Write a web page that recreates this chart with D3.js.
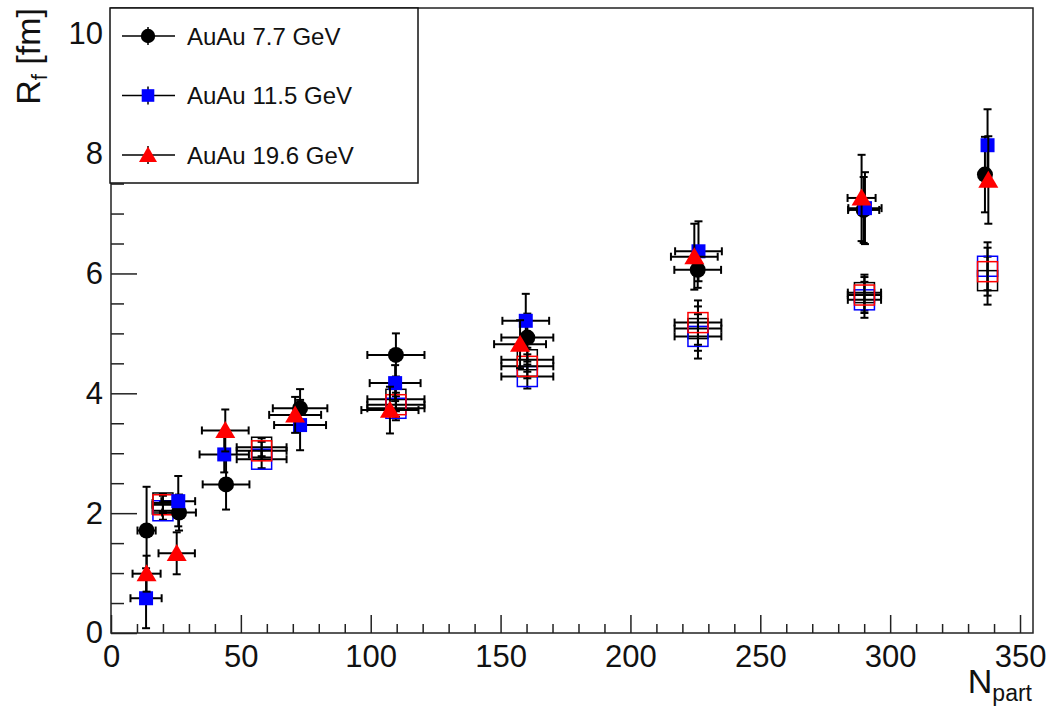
<!DOCTYPE html>
<html>
<head>
<meta charset="utf-8">
<script src="https://cdn.jsdelivr.net/npm/d3@7"></script>
<style>
  html, body { margin: 0; padding: 0; background: #fff; }
  svg { display: block; font-family: "Liberation Sans", Arial, Helvetica, sans-serif; }
</style>
</head>
<body>
<svg id="chart" width="1049" height="708"></svg>
<script>
// filled markers: AuAu 7.7 / 11.5 / 19.6 GeV
const npart77  = [13.7, 26.2, 44.3, 72.8, 109.7, 160.3, 225.9, 289.8, 336.5];
const rf77     = [1.71, 2.01, 2.48, 3.75, 4.64, 4.93, 6.06, 7.06, 7.65];
const xerr77   = [3.5, 6.5, 9, 10.5, 11, 10, 9, 6, 0];
const yerr77   = [0.73, 0.3, 0.42, 0.32, 0.36, 0.4, 0.3, 0.55, 0.63];

const npart115 = [13.5, 25.9, 43.6, 72.8, 109.4, 159.7, 226.2, 290.3, 337.5];
const rf115    = [0.58, 2.2, 2.98, 3.47, 4.17, 5.21, 6.37, 7.09, 8.14];
const xerr115  = [6, 6.5, 9.5, 10, 9.8, 9, 9, 6.4, 0];
const yerr115  = [0.5, 0.42, 0.3, 0.42, 0.3, 0.45, 0.5, 0.6, 0.6];

const npart196 = [13.7, 25.3, 44.0, 70.9, 107.4, 157.5, 224.6, 289.0, 337.8];
const rf196    = [0.99, 1.33, 3.38, 3.64, 3.72, 4.82, 6.28, 7.26, 7.56];
const xerr196  = [5.4, 7, 9, 10, 11, 10, 9, 5.4, 0];
const yerr196  = [0.3, 0.35, 0.35, 0.3, 0.39, 0.4, 0.55, 0.72, 0.73];

// open squares (black, blue, red)
const npartOpen   = [20, 58, 109.7, 160.3, 226, 290.1, 337.5];
const xerrOpen    = [4, 9.6, 11, 10, 9, 6.4, 0];
const rfOpenBlack = [2.17, 3.1, 3.9, 4.56, 5.08, 5.68, 5.88];
const rfOpenBlue  = [2.04, 2.9, 3.75, 4.28, 4.95, 5.56, 6.12];
const rfOpenRed   = [2.14, 3.04, 3.81, 4.45, 5.18, 5.64, 6.03];
const yerrOpen    = [0.15, 0.15, 0.2, 0.2, 0.37, 0.3, 0.4];

const legendLabels = ["AuAu 7.7 GeV", "AuAu 11.5 GeV", "AuAu 19.6 GeV"];
const xTicks = [0, 50, 100, 150, 200, 250, 300, 350];
const yTicks = [0, 2, 4, 6, 8, 10];

const svg = d3.select("#chart");
const frameL = 111, frameR = 1033, frameT = 8, frameB = 633;

const x = d3.scaleLinear().domain([0, 355]).range([frameL, frameR]);
const y = d3.scaleLinear().domain([0, 10.43]).range([frameB, frameT]);

function pts(nx, ny, ex, ey) {
  return nx.map((n, i) => ({ n: n, r: ny[i], ex: ex[i], ey: ey[i] }));
}

const series = [
  { data: pts(npartOpen, rfOpenBlack, xerrOpen, yerrOpen), shape: "open", color: "#000" },
  { data: pts(npartOpen, rfOpenBlue, xerrOpen, yerrOpen), shape: "open", color: "#0000ff" },
  { data: pts(npartOpen, rfOpenRed, xerrOpen, yerrOpen), shape: "open", color: "#ff0000" },
  { data: pts(npart77, rf77, xerr77, yerr77), shape: "circle", color: "#000" },
  { data: pts(npart115, rf115, xerr115, yerr115), shape: "square", color: "#0000ff" },
  { data: pts(npart196, rf196, xerr196, yerr196), shape: "triangle", color: "#ff0000" }
];

// axes (ticks inside the frame)
const minorX = d3.range(0, 356, 10).filter(v => v % 50 !== 0);
const minorY = d3.range(0, 10.43, 0.5).filter(v => Math.abs(v % 2) > 1e-6);

const gx = svg.append("g").attr("transform", "translate(0," + frameB + ")");
gx.call(d3.axisBottom(x).tickValues(xTicks).tickSize(-18).tickPadding(12).tickFormat(d3.format("d")));
gx.append("g").call(d3.axisBottom(x).tickValues(minorX).tickSize(-9).tickFormat(""));

const gy = svg.append("g").attr("transform", "translate(" + frameL + ",0)");
gy.call(d3.axisLeft(y).tickValues(yTicks).tickSize(-26).tickPadding(8).tickFormat(d3.format("d")));
gy.append("g").call(d3.axisLeft(y).tickValues(minorY).tickSize(-13).tickFormat(""));

svg.selectAll(".domain").remove();
svg.selectAll(".tick line").attr("stroke", "#222").attr("stroke-width", 1.5);
svg.selectAll(".tick text").attr("font-size", 31).attr("fill", "#111")
  .attr("font-family", "'Liberation Sans', Arial, sans-serif");

svg.append("rect")
  .attr("x", frameL).attr("y", frameT)
  .attr("width", frameR - frameL).attr("height", frameB - frameT)
  .attr("fill", "none").attr("stroke", "#222").attr("stroke-width", 1.5);

// markers
function drawMarker(g, shape, color, cx, cy, s) {
  if (shape === "circle") {
    g.append("circle").attr("cx", cx).attr("cy", cy).attr("r", 8 * s).attr("fill", color);
  } else if (shape === "square") {
    g.append("rect").attr("x", cx - 7 * s).attr("y", cy - 7 * s)
      .attr("width", 14 * s).attr("height", 14 * s).attr("fill", color);
  } else if (shape === "triangle") {
    const w = 10 * s, h = 17 * s;
    g.append("path")
      .attr("d", "M" + (cx - w) + "," + (cy + h * 0.45) + "L" + cx + "," + (cy - h * 0.55) +
                 "L" + (cx + w) + "," + (cy + h * 0.45) + "Z")
      .attr("fill", color);
  } else {
    g.append("rect").attr("x", cx - 10).attr("y", cy - 10)
      .attr("width", 20).attr("height", 20)
      .attr("fill", "none").attr("stroke", color).attr("stroke-width", 1.5);
  }
}

const cap = 4;
const plot = svg.append("g");
series.forEach(s => {
  const g = plot.append("g");
  s.data.forEach(d => {
    const cx = x(d.n), cy = y(d.r);
    const eb = g.append("g").attr("stroke", "#000").attr("stroke-width", 2).attr("fill", "none");
    if (d.ex > 0) {
      const x0 = x(d.n - d.ex), x1 = x(d.n + d.ex);
      eb.append("line").attr("x1", x0).attr("x2", x1).attr("y1", cy).attr("y2", cy);
      eb.append("line").attr("x1", x0).attr("x2", x0).attr("y1", cy - cap).attr("y2", cy + cap);
      eb.append("line").attr("x1", x1).attr("x2", x1).attr("y1", cy - cap).attr("y2", cy + cap);
    }
    const y0 = y(d.r - d.ey), y1 = y(d.r + d.ey);
    eb.append("line").attr("x1", cx).attr("x2", cx).attr("y1", y0).attr("y2", y1);
    eb.append("line").attr("x1", cx - cap).attr("x2", cx + cap).attr("y1", y0).attr("y2", y0);
    eb.append("line").attr("x1", cx - cap).attr("x2", cx + cap).attr("y1", y1).attr("y2", y1);
    drawMarker(g, s.shape, s.color, cx, cy, 1);
  });
});

// legend
const lg = svg.append("g");
lg.append("rect").attr("x", 110).attr("y", 8).attr("width", 308).attr("height", 175)
  .attr("fill", "#fff").attr("stroke", "#111").attr("stroke-width", 1.5);
const legendSeries = series.slice(3);
legendLabels.forEach((label, i) => {
  const ly = 36 + i * 59.5, lx = 148;
  lg.append("line").attr("x1", 122).attr("x2", 175).attr("y1", ly).attr("y2", ly)
    .attr("stroke", "#000").attr("stroke-width", 1.5);
  lg.append("line").attr("x1", lx).attr("x2", lx).attr("y1", ly - 9).attr("y2", ly + 9)
    .attr("stroke", "#000").attr("stroke-width", 1.5);
  drawMarker(lg, legendSeries[i].shape, legendSeries[i].color, lx, ly, 0.9);
  lg.append("text").attr("x", 187).attr("y", ly + 8.5)
    .attr("font-size", 24).attr("fill", "#111").text(label);
});

// axis titles
const xt = svg.append("text").attr("x", 1032).attr("y", 693)
  .attr("text-anchor", "end").attr("fill", "#111");
xt.append("tspan").attr("font-size", 34).text("N");
xt.append("tspan").attr("font-size", 23).attr("dy", 8).text("part");

const yt = svg.append("text")
  .attr("transform", "translate(40,8) rotate(-90)")
  .attr("text-anchor", "end").attr("fill", "#111");
yt.append("tspan").attr("font-size", 34).text("R");
yt.append("tspan").attr("font-size", 22).attr("dy", 7).text("f");
yt.append("tspan").attr("font-size", 34).attr("dy", -7).text(" [fm]");
</script>
</body>
</html>
